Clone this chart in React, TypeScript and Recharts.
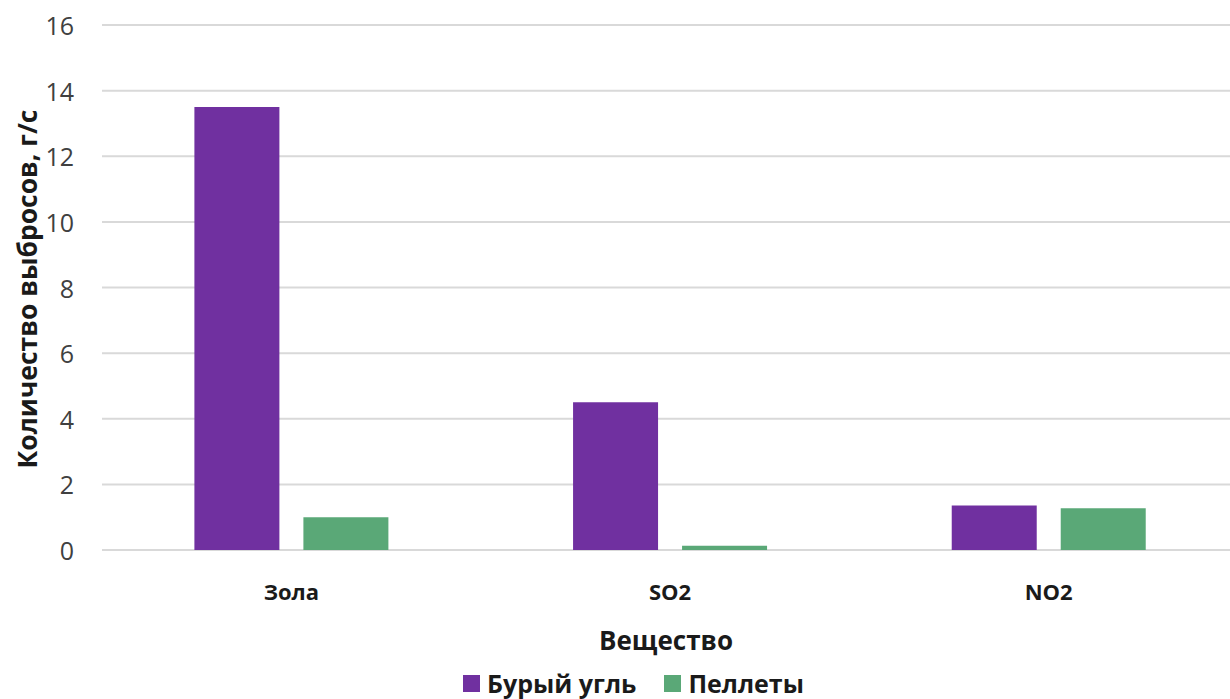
import React from 'react';
import { BarChart, Bar, XAxis, YAxis, CartesianGrid, Legend, Label } from 'recharts';

// Emission amounts (g/s) per substance for two fuel types
const substances = ['Зола', 'SO2', 'NO2'];
const brownCoal = [13.5, 4.5, 1.36];
const pellets = [1.0, 0.13, 1.27];
const yTicks = [0, 2, 4, 6, 8, 10, 12, 14, 16];

const seriesNames = { coal: 'Бурый угль', pellets: 'Пеллеты' };
const colors = { coal: '#7030a0', pellets: '#5aa877' };

const data = substances.map((name, i) => ({
  name,
  coal: brownCoal[i],
  pellets: pellets[i],
}));

const FONT = '"Open Sans", "DejaVu Sans", sans-serif';

const XTick = (props: any) => {
  const { x, y, payload } = props;
  return (
    <text
      x={x}
      y={y + 33}
      textAnchor="middle"
      dominantBaseline="central"
      fontFamily={FONT}
      fontWeight={700}
      fontSize={22}
      fill="#1a1a1a"
    >
      {payload.value}
    </text>
  );
};

const YTick = (props: any) => {
  const { x, y, payload } = props;
  return (
    <text
      x={x - 20}
      y={y}
      textAnchor="end"
      dominantBaseline="central"
      fontFamily={FONT}
      fontSize={25}
      fill="#404040"
    >
      {payload.value}
    </text>
  );
};

const LegendContent = () => (
  <div
    style={{
      display: 'flex',
      justifyContent: 'center',
      alignItems: 'center',
      fontFamily: FONT,
      fontWeight: 700,
      fontSize: 25,
      lineHeight: '28px',
      color: '#1a1a1a',
      gap: 28,
      paddingLeft: 37,
    }}
  >
    {(['coal', 'pellets'] as const).map((k) => (
      <div key={k} style={{ display: 'flex', alignItems: 'center', gap: 7 }}>
        <span style={{ width: 17, height: 17, background: colors[k], display: 'inline-block' }} />
        <span>{seriesNames[k]}</span>
      </div>
    ))}
  </div>
);

export default function App() {
  return (
    <div style={{ position: 'absolute', left: 0, top: 0, width: 1230, height: 699, overflow: 'hidden', background: '#fff' }}>
      <BarChart
        width={1230}
        height={699}
        data={data}
        margin={{ top: 25, right: -8, bottom: 0, left: 0 }}
        barCategoryGap="24.4%"
        barGap={24}
      >
        <CartesianGrid vertical={false} stroke="#d9d9d9" strokeWidth={2} />
        <XAxis
          dataKey="name"
          axisLine={false}
          tickLine={false}
          tick={<XTick />}
          height={149}
        >
          <Label
            content={() => (
              <text
                x={666}
                y={640}
                textAnchor="middle"
                dominantBaseline="central"
                fontFamily={FONT}
                fontWeight={700}
                fontSize={26}
                fill="#1a1a1a"
              >
                Вещество
              </text>
            )}
          />
        </XAxis>
        <YAxis
          width={102}
          domain={[0, 16]}
          ticks={yTicks}
          axisLine={false}
          tickLine={false}
          tick={<YTick />}
          interval={0}
        >
          <Label
            content={() => (
              <text
                x={27}
                y={289}
                transform="rotate(-90 27 289)"
                textAnchor="middle"
                dominantBaseline="central"
                fontFamily={FONT}
                fontWeight={700}
                fontSize={26.5}
                fill="#1a1a1a"
              >
                Количество выбросов, г/с
              </text>
            )}
          />
        </YAxis>
        <Legend
          layout="horizontal"
          verticalAlign="middle"
          align="center"
          content={<LegendContent />}
          wrapperStyle={{ top: 669, left: 0, width: 1230 }}
        />
        <Bar dataKey="coal" name={seriesNames.coal} fill={colors.coal} isAnimationActive={false} />
        <Bar dataKey="pellets" name={seriesNames.pellets} fill={colors.pellets} isAnimationActive={false} />
      </BarChart>
    </div>
  );
}
